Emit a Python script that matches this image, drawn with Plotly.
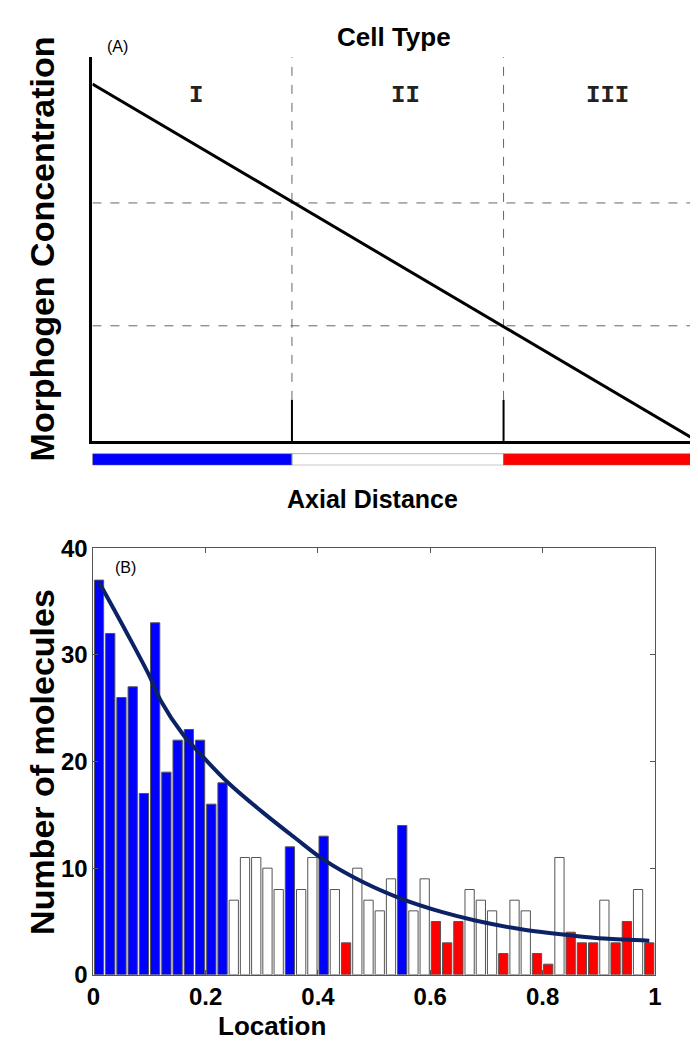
import numpy as np
import plotly.graph_objects as go

# ---------------- data ----------------
# Panel A: linear morphogen gradient and cell-type zones
grad_x = [0.0, 1.0]
grad_y = [0.93, 0.0]
zone_bounds = [0.33, 0.68]          # axial positions of the fate boundaries
zone_thresh = [0.62, 0.30]          # concentration thresholds at the boundaries
zone_labels = ["I", "II", "III"]
zone_colors = ["#0000FF", "#FFFFFF", "#FF0000"]
zone_start = [0.0, 0.33, 0.68]
zone_width = [0.33, 0.35, 0.32]

# Panel B: histogram of molecules (50 bins on [0,1])
bin_centers = [round(0.01 + 0.02 * i, 2) for i in range(50)]
counts = [37, 32, 26, 27, 17, 33, 19, 22, 23, 22, 16, 18,
          7, 11, 11, 10, 8, 12, 8, 11, 13, 8, 3, 10, 7, 6, 9,
          14, 6, 9, 5, 3, 5, 8, 7, 6, 2, 7, 6, 2, 1, 11, 4, 3, 3, 7, 3, 5, 8, 3]
cell_type = list("bbbbbbbbbbbb") + list("wwwwwbwwbwrwwww") + list("bwwrrrwwwrwwrrwrrrwrrwr")
type_color = {"b": "#0000FF", "w": "#FFFFFF", "r": "#FF0000"}

fit_x = [0.01, 0.06, 0.10, 0.12, 0.16, 0.18, 0.24, 0.30, 0.36, 0.41, 0.48,
         0.55, 0.62, 0.68, 0.77, 0.85, 0.91, 0.99]
fit_y = [36.8, 32.0, 28.0, 25.7, 22.5, 21.3, 18.0, 15.3, 12.8, 10.8, 8.7,
         7.1, 5.9, 5.1, 4.2, 3.7, 3.4, 3.2]

x_ticks = [0, 0.2, 0.4, 0.6, 0.8, 1]
x_ticklabels = ["0", "0.2", "0.4", "0.6", "0.8", "1"]
y_ticks = [0, 10, 20, 30, 40]

# ---------------- figure ----------------
W, H = 698, 1050
def px(x):
    return x / W
def py(y):
    return 1 - y / H

FONT = "Liberation Sans, Arial, Helvetica, sans-serif"
fig = go.Figure()

# Panel A
tick_h = 0.107
for b, t in zip(zone_bounds, zone_thresh):
    fig.add_trace(go.Scatter(x=[b, b], y=[tick_h, 1], mode="lines",
                             line=dict(color="#666666", width=1, dash="dash"),
                             xaxis="x", yaxis="y", showlegend=False, hoverinfo="skip"))
    fig.add_trace(go.Scatter(x=[b, b], y=[0, tick_h], mode="lines",
                             line=dict(color="black", width=2),
                             xaxis="x", yaxis="y", showlegend=False, hoverinfo="skip"))
    fig.add_trace(go.Scatter(x=[0, 1], y=[t, t], mode="lines",
                             line=dict(color="#666666", width=1, dash="dash"),
                             xaxis="x", yaxis="y", showlegend=False, hoverinfo="skip"))
fig.add_trace(go.Scatter(x=grad_x, y=grad_y, mode="lines",
                         line=dict(color="black", width=3),
                         xaxis="x", yaxis="y", showlegend=False))

# zone colour strip
fig.add_trace(go.Bar(x=zone_width, base=zone_start, y=[0, 0, 0], orientation="h",
                     width=1, marker=dict(color=zone_colors, line=dict(color="#777777", width=1)),
                     xaxis="x3", yaxis="y3", showlegend=False))

# Panel B
fig.add_trace(go.Bar(x=bin_centers, y=counts, width=0.0165,
                     marker=dict(color=[type_color[c] for c in cell_type],
                                 line=dict(color="#555555", width=1)),
                     xaxis="x2", yaxis="y2", showlegend=False))
fig.add_trace(go.Scatter(x=fit_x, y=fit_y, mode="lines", line_shape="spline",
                         line=dict(color="#0B2366", width=4),
                         xaxis="x2", yaxis="y2", showlegend=False))

fig.update_layout(
    width=W, height=H, margin=dict(l=0, r=0, t=0, b=0),
    paper_bgcolor="white", plot_bgcolor="white", barmode="overlay",
    font=dict(family=FONT, color="black"),
    xaxis=dict(domain=[px(79), px(696)], range=[0, 1], showgrid=False, zeroline=False,
               showline=True, linecolor="black", linewidth=2.5, showticklabels=False, ticks=""),
    yaxis=dict(domain=[py(430), py(36)], range=[0, 1], showgrid=False, zeroline=False,
               showline=True, linecolor="black", linewidth=2.5, showticklabels=False, ticks=""),
    xaxis3=dict(domain=[px(79), px(696)], range=[0, 1], showgrid=False, zeroline=False,
                showline=False, showticklabels=False, anchor="y3"),
    yaxis3=dict(domain=[py(455), py(443)], range=[-0.5, 0.5], showgrid=False, zeroline=False,
                showline=False, showticklabels=False, anchor="x3"),
    xaxis2=dict(domain=[px(80), px(653)], range=[0, 1], anchor="y2",
                showgrid=False, zeroline=False, showline=True, linecolor="#555555", linewidth=1,
                mirror="ticks", ticks="inside", ticklen=5, tickcolor="#555555",
                tickvals=x_ticks, ticktext=x_ticklabels,
                tickfont=dict(size=24, family=FONT, weight="bold")),
    yaxis2=dict(domain=[py(978), py(540)], range=[0, 40], anchor="x2",
                showgrid=False, zeroline=False, showline=True, linecolor="#555555", linewidth=1,
                mirror="ticks", ticks="inside", ticklen=5, tickcolor="#555555",
                tickvals=y_ticks,
                tickfont=dict(size=24, family=FONT, weight="bold")),
)

ann = []
def text(x, y, s, size, bold=True, angle=0, family=FONT, color="black"):
    ann.append(dict(x=px(x), y=py(y), xref="paper", yref="paper", text=s, showarrow=False,
                    textangle=angle, xanchor="center", yanchor="middle",
                    font=dict(size=size, family=family, color=color,
                              weight="bold" if bold else "normal")))

text(387, 15, "Cell Type", 26)
text(105, 25, "(A)", 16, bold=False)
for xc, lab in zip([185, 398, 605], zone_labels):
    text(xc, 75, lab, 24, family="Liberation Mono, Courier New, monospace", color="#222222")
text(28, 233, "Morphogen Concentration", 34, angle=-90)
text(365, 490, "Axial Distance", 25)
text(113, 560, "(B)", 16, bold=False)
text(28, 759, "Number of molecules", 34, angle=-90)
text(262, 1031, "Location", 26)
fig.update_layout(annotations=ann)

fig.write_html("out.html")
